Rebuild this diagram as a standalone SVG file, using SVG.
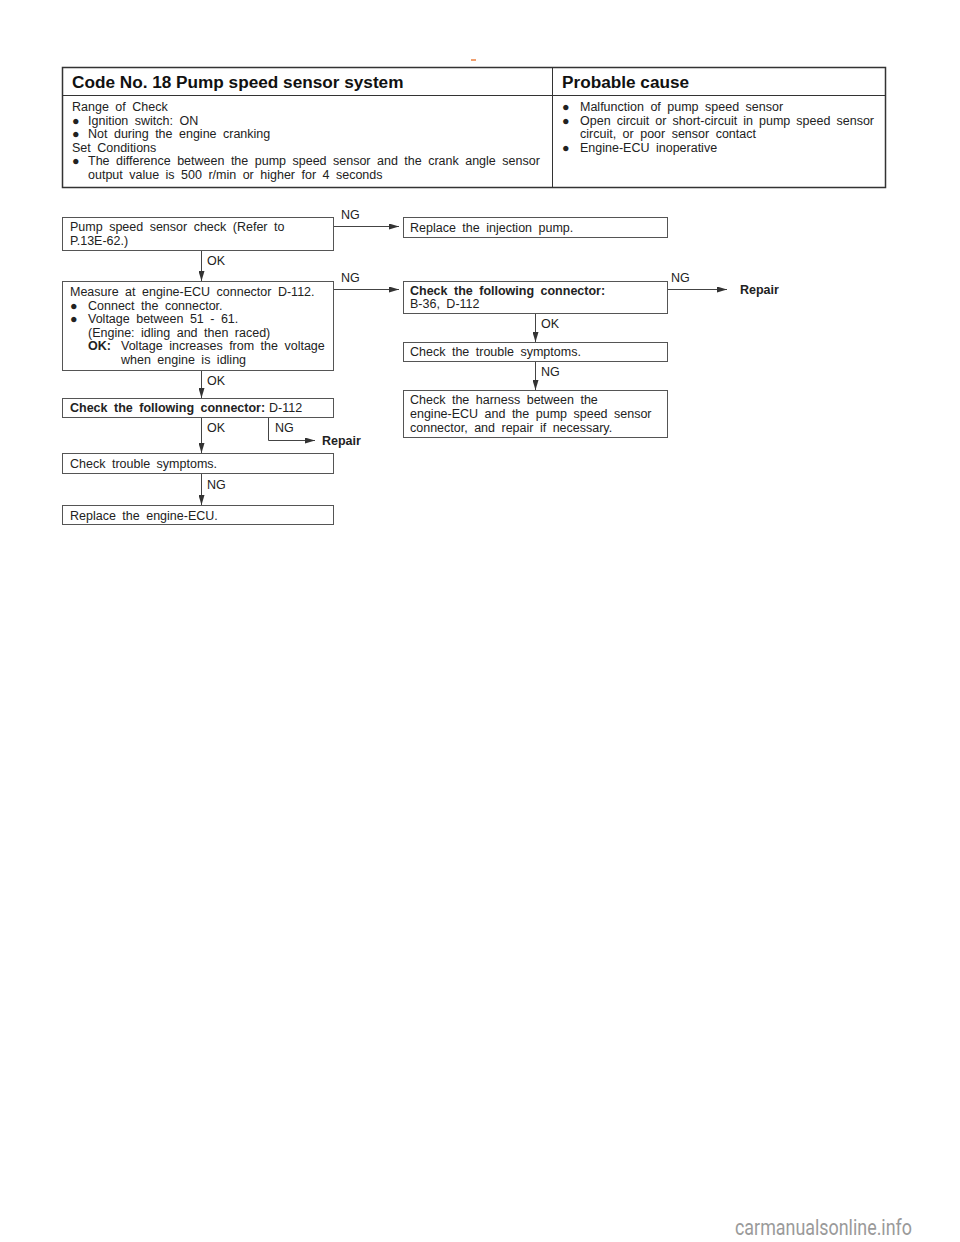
<svg xmlns="http://www.w3.org/2000/svg" width="960" height="1242" viewBox="0 0 960 1242">
<defs>
<style>
.t{font-family:"Liberation Sans",Arial,sans-serif;font-size:12.5px;fill:#222;word-spacing:3px}
.b{font-weight:bold}
.h{font-family:"Liberation Sans",Arial,sans-serif;font-size:17.2px;font-weight:bold;fill:#111}
.box{fill:#fff;stroke:#555;stroke-width:1}
.ln{fill:none;stroke:#444;stroke-width:1}
.wm{font-family:Roboto,"Liberation Sans",sans-serif;font-size:22px;fill:#9a9a9a}
</style>
<marker id="ah" markerUnits="userSpaceOnUse" markerWidth="10" markerHeight="6" refX="10" refY="3" orient="auto">
<path d="M0,0 L10,3 L0,6 z" fill="#333"/>
</marker>
</defs>
<rect width="960" height="1242" fill="#fff"/>
<rect x="471" y="59" width="5" height="2" fill="#f0a070"/>

<g id="table">
<rect x="62.5" y="67.5" width="823" height="120" fill="#fff" stroke="#333" stroke-width="1.5"/>
<line x1="62.5" y1="95.5" x2="885.5" y2="95.5" stroke="#333" stroke-width="1"/>
<line x1="552.5" y1="67.5" x2="552.5" y2="187.5" stroke="#333" stroke-width="1"/>
<text class="h" x="72" y="87.5">Code No. 18 Pump speed sensor system</text>
<text class="h" x="562" y="87.5">Probable cause</text>
<text class="t" x="72" y="111">Range of Check</text>
<text class="t" x="72" y="124.5">●</text><text class="t" x="88" y="124.5">Ignition switch: ON</text>
<text class="t" x="72" y="138">●</text><text class="t" x="88" y="138">Not during the engine cranking</text>
<text class="t" x="72" y="151.5">Set Conditions</text>
<text class="t" x="72" y="165">●</text><text class="t" x="88" y="165">The difference between the pump speed sensor and the crank angle sensor</text>
<text class="t" x="88" y="178.5">output value is 500 r/min or higher for 4 seconds</text>
<text class="t" x="562" y="111">●</text><text class="t" x="580" y="111">Malfunction of pump speed sensor</text>
<text class="t" x="562" y="124.5">●</text><text class="t" x="580" y="124.5" style="word-spacing:2.6px">Open circuit or short-circuit in pump speed sensor</text>
<text class="t" x="580" y="138">circuit, or poor sensor contact</text>
<text class="t" x="562" y="151.5">●</text><text class="t" x="580" y="151.5">Engine-ECU inoperative</text>
</g>

<g id="connectors">
<line class="ln" x1="333" y1="226.5" x2="399" y2="226.5" marker-end="url(#ah)"/>
<line class="ln" x1="201.5" y1="250" x2="201.5" y2="281" marker-end="url(#ah)"/>
<line class="ln" x1="333" y1="289.5" x2="399" y2="289.5" marker-end="url(#ah)"/>
<line class="ln" x1="667" y1="289.5" x2="727" y2="289.5" marker-end="url(#ah)"/>
<line class="ln" x1="535.5" y1="313" x2="535.5" y2="342" marker-end="url(#ah)"/>
<line class="ln" x1="535.5" y1="361" x2="535.5" y2="390" marker-end="url(#ah)"/>
<line class="ln" x1="201.5" y1="370" x2="201.5" y2="398" marker-end="url(#ah)"/>
<line class="ln" x1="201.5" y1="418" x2="201.5" y2="453" marker-end="url(#ah)"/>
<polyline class="ln" points="268.5,418 268.5,440.5 315,440.5" marker-end="url(#ah)"/>
<line class="ln" x1="201.5" y1="473" x2="201.5" y2="505" marker-end="url(#ah)"/>
<text class="t" x="341" y="219">NG</text>
<text class="t" x="207" y="265">OK</text>
<text class="t" x="341" y="282">NG</text>
<text class="t" x="671" y="282">NG</text>
<text class="t b" x="740" y="294">Repair</text>
<text class="t" x="541" y="328">OK</text>
<text class="t" x="541" y="376">NG</text>
<text class="t" x="207" y="385">OK</text>
<text class="t" x="207" y="432">OK</text>
<text class="t" x="275" y="432">NG</text>
<text class="t b" x="322" y="445">Repair</text>
<text class="t" x="207" y="489">NG</text>
</g>

<g id="n1">
<rect class="box" x="62.5" y="217.5" width="271" height="33"/>
<text class="t" x="70" y="230.5">Pump speed sensor check (Refer to</text>
<text class="t" x="70" y="244.5">P.13E-62.)</text>
</g>
<g id="n2">
<rect class="box" x="403.5" y="217.5" width="264" height="20"/>
<text class="t" x="410" y="232">Replace the injection pump.</text>
</g>
<g id="n3">
<rect class="box" x="62.5" y="281.5" width="271" height="89"/>
<text class="t" x="70" y="296">Measure at engine-ECU connector D-112.</text>
<text class="t" x="70" y="309.5">●</text><text class="t" x="88" y="309.5">Connect the connector.</text>
<text class="t" x="70" y="323">●</text><text class="t" x="88" y="323">Voltage between 51 - 61.</text>
<text class="t" x="88" y="336.5">(Engine: idling and then raced)</text>
<text class="t b" x="88" y="350">OK:</text><text class="t" x="121" y="350">Voltage increases from the voltage</text>
<text class="t" x="121" y="363.5">when engine is idling</text>
</g>
<g id="n4">
<rect class="box" x="403.5" y="281.5" width="264" height="32"/>
<text class="t b" x="410" y="295">Check the following connector:</text>
<text class="t" x="410" y="307.5">B-36, D-112</text>
</g>
<g id="n5">
<rect class="box" x="403.5" y="342.5" width="264" height="19"/>
<text class="t" x="410" y="356">Check the trouble symptoms.</text>
</g>
<g id="n6">
<rect class="box" x="403.5" y="390.5" width="264" height="47"/>
<text class="t" x="410" y="403.5">Check the harness between the</text>
<text class="t" x="410" y="417.5">engine-ECU and the pump speed sensor</text>
<text class="t" x="410" y="431.5">connector, and repair if necessary.</text>
</g>
<g id="n7">
<rect class="box" x="62.5" y="398.5" width="271" height="19"/>
<text class="t b" x="70" y="412">Check the following connector:</text><text class="t" x="269" y="412">D-112</text>
</g>
<g id="n8">
<rect class="box" x="62.5" y="453.5" width="271" height="20"/>
<text class="t" x="70" y="467.5">Check trouble symptoms.</text>
</g>
<g id="n9">
<rect class="box" x="62.5" y="505.5" width="271" height="19"/>
<text class="t" x="70" y="519.5">Replace the engine-ECU.</text>
</g>
<text class="wm" x="735" y="1235" textLength="177" lengthAdjust="spacingAndGlyphs">carmanualsonline.info</text>
</svg>
